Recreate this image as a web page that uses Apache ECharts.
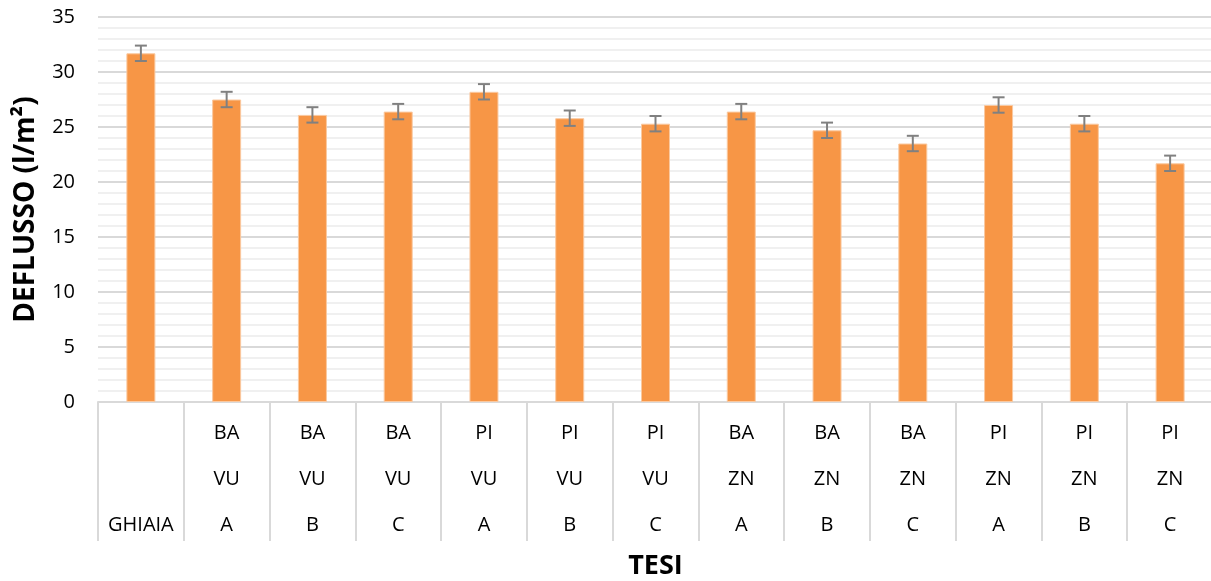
<!DOCTYPE html>
<html>
<head>
<meta charset="utf-8">
<script src="https://cdn.jsdelivr.net/npm/echarts@6/dist/echarts.min.js"></script>
<style>
  html, body { margin: 0; padding: 0; background: #ffffff; }
  #chart { width: 1211px; height: 581px; }
</style>
</head>
<body>
<div id="chart"></div>
<script>
// Three-level category labels (top, middle, bottom row)
const level1 = ['', 'BA', 'BA', 'BA', 'PI', 'PI', 'PI', 'BA', 'BA', 'BA', 'PI', 'PI', 'PI'];
const level2 = ['', 'VU', 'VU', 'VU', 'VU', 'VU', 'VU', 'ZN', 'ZN', 'ZN', 'ZN', 'ZN', 'ZN'];
const level3 = ['GHIAIA', 'A', 'B', 'C', 'A', 'B', 'C', 'A', 'B', 'C', 'A', 'B', 'C'];

// Mean runoff per treatment (l/m²) and its error (±)
const deflusso = [31.7, 27.5, 26.1, 26.4, 28.2, 25.8, 25.3, 26.4, 24.7, 23.5, 27.0, 25.3, 21.7];
const errore   = [0.7, 0.7, 0.7, 0.7, 0.7, 0.7, 0.7, 0.7, 0.7, 0.7, 0.7, 0.7, 0.7];

const yTicks = { min: 0, max: 35, interval: 5 };

const categories = level3.map((c, i) => [level1[i], level2[i], c].join('\n'));
const errData = deflusso.map((v, i) => [i, v - errore[i], v + errore[i]]);

const FONT = '"Open Sans", "Noto Sans", sans-serif';

const chart = echarts.init(document.getElementById('chart'), null, { renderer: 'canvas' });
chart.setOption({
  backgroundColor: '#ffffff',
  animation: false,
  grid: {
    left: 98, top: 17, width: 1115, height: 385,
    containLabel: false,
    outerBoundsMode: 'none'
  },
  xAxis: {
    type: 'category',
    data: categories,
    name: 'TESI',
    nameLocation: 'middle',
    nameGap: 138,
    nameTextStyle: { fontFamily: FONT, fontSize: 27, fontWeight: 'bold', color: '#000' },
    axisLine: { show: true, lineStyle: { color: '#d9d9d9', width: 2 } },
    axisTick: { show: true, interval: 0, length: 139, lineStyle: { color: '#d9d9d9', width: 2 } },
    axisLabel: {
      interval: 0,
      margin: 8,
      fontFamily: FONT,
      fontSize: 20,
      color: '#000',
      lineHeight: 46
    }
  },
  yAxis: {
    type: 'value',
    min: yTicks.min,
    max: yTicks.max,
    interval: yTicks.interval,
    name: 'DEFLUSSO (l/m²)',
    nameLocation: 'middle',
    nameGap: 58,
    nameTextStyle: { fontFamily: FONT, fontSize: 28, fontWeight: 'bold', color: '#000' },
    axisLine: { show: false },
    axisTick: { show: false },
    axisLabel: { fontFamily: FONT, fontSize: 20, color: '#000', margin: 23 },
    splitLine: { show: true, lineStyle: { color: '#d9d9d9', width: 2 } },
    minorTick: { show: false, splitNumber: 5 },
    minorSplitLine: { show: true, lineStyle: { color: '#f0f0f0', width: 2 } }
  },
  series: [
    {
      type: 'bar',
      data: deflusso,
      barWidth: 29,
      itemStyle: { color: '#F79646', borderColor: '#fac9a0', borderWidth: 1 },
      z: 2
    },
    {
      type: 'custom',
      data: errData,
      z: 3,
      renderItem: function (params, api) {
        const x = api.value(0);
        const lo = api.coord([x, api.value(1)]);
        const hi = api.coord([x, api.value(2)]);
        const hw = 6;
        const style = { stroke: '#808080', lineWidth: 2, fill: null };
        return {
          type: 'group',
          children: [
            { type: 'line', shape: { x1: hi[0], y1: hi[1], x2: lo[0], y2: lo[1] }, style: style },
            { type: 'line', shape: { x1: hi[0] - hw, y1: hi[1], x2: hi[0] + hw, y2: hi[1] }, style: style },
            { type: 'line', shape: { x1: lo[0] - hw, y1: lo[1], x2: lo[0] + hw, y2: lo[1] }, style: style }
          ]
        };
      }
    }
  ]
});
</script>
</body>
</html>
